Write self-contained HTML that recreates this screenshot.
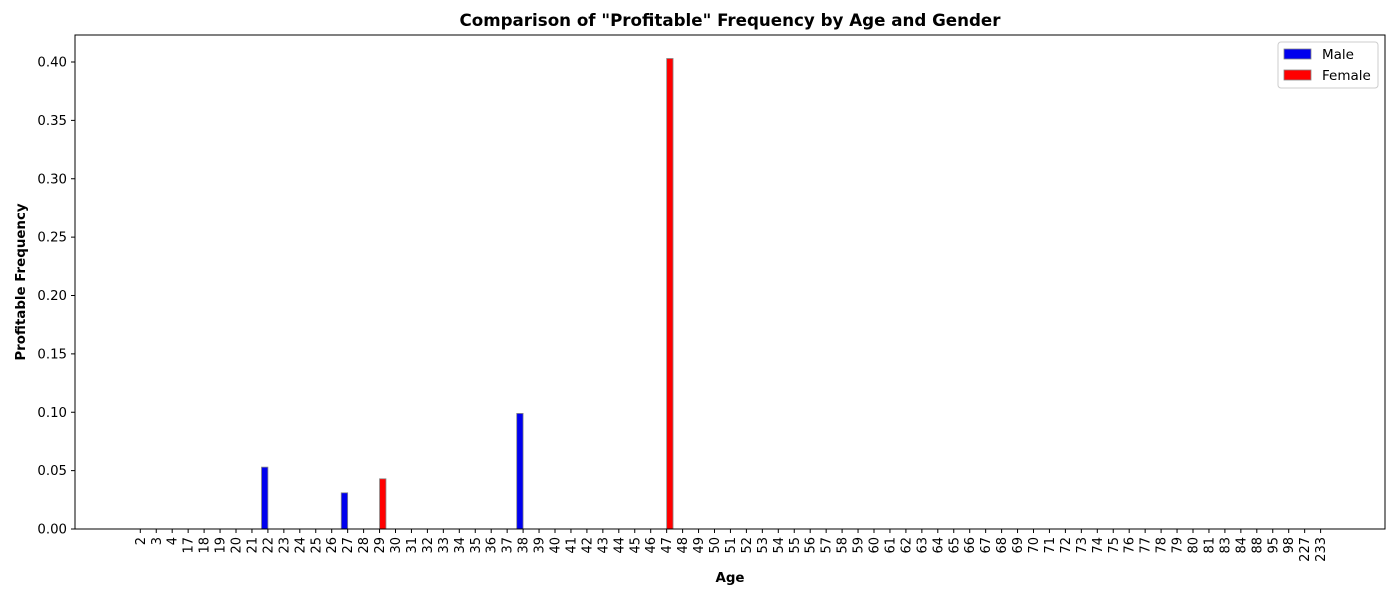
<!DOCTYPE html>
<html><head><meta charset="utf-8"><style>
body{margin:0;background:#fff;font-family:"Liberation Sans","DejaVu Sans",sans-serif}
</style></head><body>
<svg id="chart" width="1400" height="600" xmlns="http://www.w3.org/2000/svg" font-family="DejaVu Sans, Liberation Sans, sans-serif">
<text x="730" y="26" text-anchor="middle" font-size="16.7" font-weight="bold">Comparison of "Profitable" Frequency by Age and Gender</text>
<text x="730" y="582" text-anchor="middle" font-size="13.4" font-weight="bold">Age</text>
<text transform="translate(25,282) rotate(-90)" text-anchor="middle" font-size="13.4" font-weight="bold">Profitable Frequency</text>
<g id="plot"></g>
<rect x="75" y="35" width="1310" height="494" fill="none" stroke="#000" stroke-width="1"/>
<g>
<rect x="1278" y="42" width="100" height="46" fill="#fff" stroke="#ccc" rx="3"/>
<rect x="1284" y="49" width="27" height="10" fill="#0000ee" stroke="#888" stroke-width="0.8"/>
<text x="1322" y="59" font-size="13.5">Male</text>
<rect x="1284" y="70" width="27" height="10" fill="#ff0000" stroke="#888" stroke-width="0.8"/>
<text x="1322" y="80" font-size="13.5">Female</text>
</g>
</svg>
<script>
const categories=[2,3,4,17,18,19,20,21,22,23,24,25,26,27,28,29,30,31,32,33,34,35,36,37,38,39,40,41,42,43,44,45,46,47,48,49,50,51,52,53,54,55,56,57,58,59,60,61,62,63,64,65,66,67,68,69,70,71,72,73,74,75,76,77,78,79,80,81,83,84,88,95,98,227,233];
const maleAges=[22,27,38];
const maleValues=[0.053,0.031,0.099];
const femaleAges=[29,47];
const femaleValues=[0.043,0.403];
const yTicks=[0,0.05,0.1,0.15,0.2,0.25,0.3,0.35,0.4];
const NS="http://www.w3.org/2000/svg";
const g=document.getElementById('plot');
const x0=140.3,step=15.95,barW=6.4;
function xScale(i){return x0+i*step;}
function yScale(v){return 529-v*(467/0.4);}
function mk(t,a){const e=document.createElementNS(NS,t);for(const k in a)e.setAttribute(k,a[k]);g.appendChild(e);return e;}
yTicks.forEach(v=>{
  const y=yScale(v);
  const l=mk('line',{x1:71,x2:75,y1:y,y2:y,stroke:'#000'});
  
  
  const t=mk('text',{x:67,y:y+4.5,'text-anchor':'end','font-size':'13.3'});
  t.textContent=v.toFixed(2);
  
  
});
categories.forEach((c,i)=>{
  const x=xScale(i);
  const l=mk('line',{x1:x,x2:x,y1:529,y2:533,stroke:'#000'});
  
  
  const t=mk('text',{transform:`translate(${x+4.5},537) rotate(-90)`,'text-anchor':'end','font-size':'13'});
  t.textContent=c;
  
  
});
maleAges.forEach((a,k)=>{
  const i=categories.indexOf(a),y=yScale(maleValues[k]);
  const r=mk('rect',{x:xScale(i)-barW,y:y,width:barW,height:529-y,fill:'#0000ee',stroke:'#888','stroke-width':0.8});
  
  
});
femaleAges.forEach((a,k)=>{
  const i=categories.indexOf(a),y=yScale(femaleValues[k]);
  const r=mk('rect',{x:xScale(i),y:y,width:barW,height:529-y,fill:'#ff0000',stroke:'#888','stroke-width':0.8});
  
  
});
</script>
</body></html>
